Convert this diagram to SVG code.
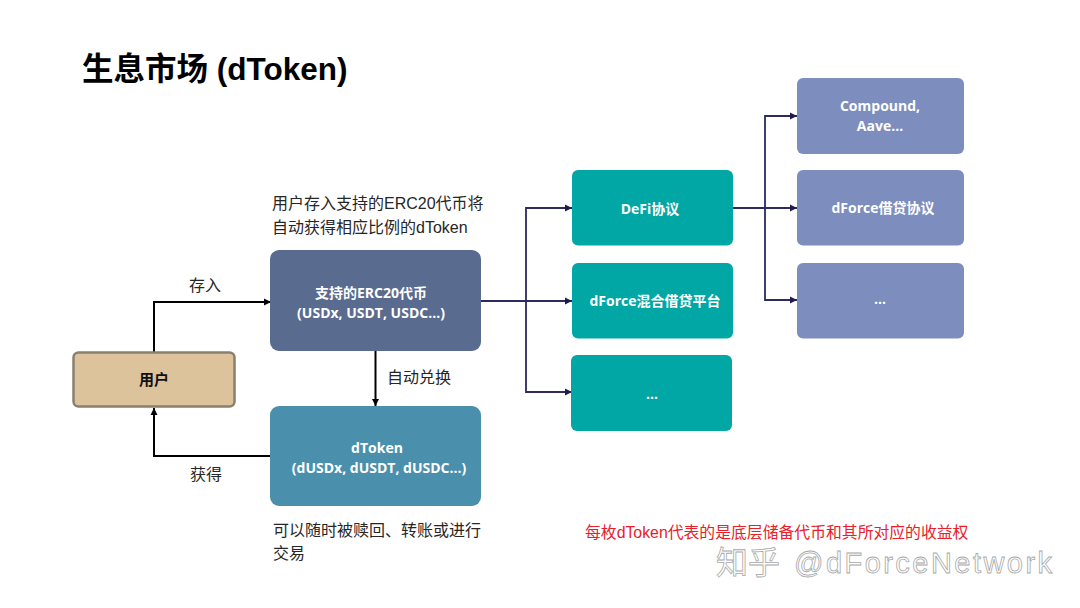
<svg xmlns="http://www.w3.org/2000/svg" width="1080" height="608" viewBox="0 0 1080 608">
<style>
text{font-family:"Open Sans","Noto Sans CJK SC",sans-serif}
.w{font-size:14px;font-weight:700;fill:#fff;text-anchor:middle}
.b{font-size:16px;fill:#262626;font-family:"Liberation Sans","Noto Sans CJK SC",sans-serif}
.k{fill:none;stroke:#000;stroke-width:2}
.n{fill:none;stroke:#2d2a5e;stroke-width:1.800}
.wm{font-family:"Liberation Sans","Noto Sans CJK SC",sans-serif;fill:#fff;stroke:#a8a8a8;stroke-width:.8}
</style>
<defs>
<marker id="ak" markerUnits="userSpaceOnUse" markerWidth="8" markerHeight="8" refX="7" refY="4" orient="auto"><path d="M0 .5L7 4L0 7.500Z" fill="#000"/></marker>
<marker id="an" markerUnits="userSpaceOnUse" markerWidth="8" markerHeight="8" refX="7" refY="4" orient="auto"><path d="M0 .5L7 4L0 7.500Z" fill="#1f1c4d"/></marker>
</defs>
<rect width="1080" height="608" fill="#fff"/>
<text x="82" y="80" font-size="31.500" font-weight="700" fill="#000" style="font-family:'Liberation Sans','Noto Sans CJK SC',sans-serif">生息市场 (dToken)</text>

<g id="connectors">
<path class="k" marker-end="url(#ak)" d="M154 352V302H271"/>
<path class="k" marker-end="url(#ak)" d="M375.500 351V406"/>
<path class="k" marker-end="url(#ak)" d="M270 456H154V408"/>
<path class="n" marker-end="url(#an)" d="M481 301H572"/>
<path class="n" marker-end="url(#an)" d="M526 301V208H572"/>
<path class="n" marker-end="url(#an)" d="M526 301V392H572"/>
<path class="n" marker-end="url(#an)" d="M733 208H797"/>
<path class="n" marker-end="url(#an)" d="M765 208V116H797"/>
<path class="n" marker-end="url(#an)" d="M765 208V300H797"/>
</g>

<g id="user"><rect x="73.500" y="352.500" width="161" height="54" rx="5" fill="#dcc39b" stroke="#8a8070" stroke-width="2.500"/><text x="154" y="385" font-size="15" font-weight="700" fill="#111" text-anchor="middle" style="font-family:'Liberation Sans','Noto Sans CJK SC',sans-serif">用户</text></g>
<g id="erc20"><rect x="270" y="250" width="211" height="101" rx="9" fill="#5a6b90"/><text class="w" x="371" y="298">支持的ERC20代币</text><text class="w" x="371" y="318">(USDx, USDT, USDC…)</text></g>
<g id="dtoken"><rect x="270" y="406" width="211" height="100" rx="9" fill="#4a90ad"/><text class="w" x="377" y="453">dToken</text><text class="w" x="379" y="473">(dUSDx, dUSDT, dUSDC…)</text></g>
<g id="defi"><rect x="572" y="170" width="161" height="75.500" rx="6" fill="#00a7a4"/><text class="w" x="650" y="214">DeFi协议</text></g>
<g id="mixed"><rect x="572" y="263" width="161" height="75.500" rx="6" fill="#00a7a4"/><text class="w" x="655" y="306">dForce混合借贷平台</text></g>
<g id="more1"><rect x="571" y="355" width="161" height="76" rx="6" fill="#00a7a4"/><text class="w" x="652" y="399">…</text></g>
<g id="compound"><rect x="797" y="78" width="167" height="76" rx="6" fill="#7d8dbd"/><text class="w" x="880" y="110.500">Compound,</text><text class="w" x="880" y="131">Aave…</text></g>
<g id="lending"><rect x="797" y="170" width="167" height="75.500" rx="6" fill="#7d8dbd"/><text class="w" x="883" y="213">dForce借贷协议</text></g>
<g id="more2"><rect x="797" y="263" width="167" height="75.500" rx="6" fill="#7d8dbd"/><text class="w" x="880" y="304">…</text></g>

<g id="labels">
<text class="b" x="272" y="209">用户存入支持的ERC20代币将</text>
<text class="b" x="272" y="233">自动获得相应比例的dToken</text>
<text class="b" x="189" y="291">存入</text>
<text class="b" x="387" y="383">自动兑换</text>
<text class="b" x="190" y="480">获得</text>
<text class="b" x="273" y="536">可以随时被赎回、转账或进行</text>
<text class="b" x="273" y="559">交易</text>
<text x="585" y="538" font-size="15.840" fill="#e8202a" style="font-family:'Liberation Sans','Noto Sans CJK SC',sans-serif">每枚dToken代表的是底层储备代币和其所对应的收益权</text>
</g>
<g id="watermark">
<text class="wm" x="716" y="574" font-size="32">知乎</text>
<text class="wm" x="794" y="573" font-size="29" textLength="258" lengthAdjust="spacing">@dForceNetwork</text>
</g>
</svg>
